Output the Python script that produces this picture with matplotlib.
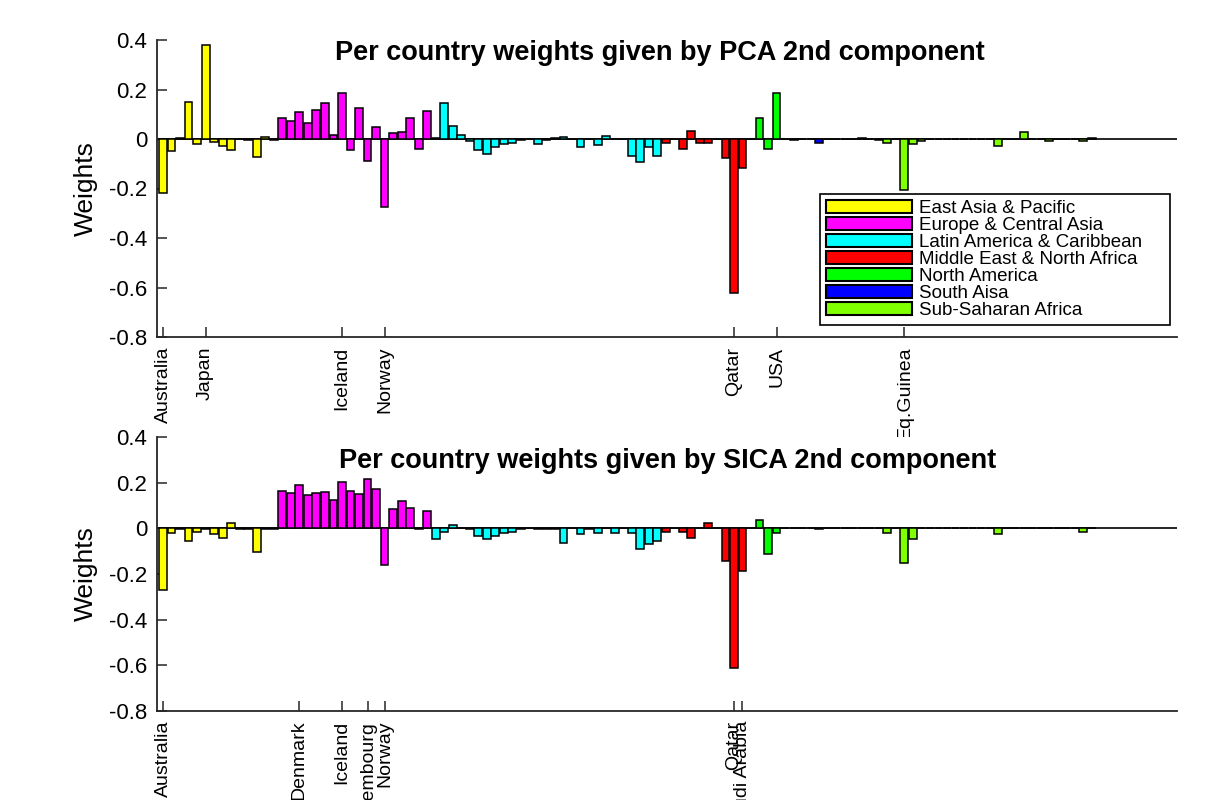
import matplotlib.pyplot as plt
from matplotlib.patches import Patch

# regions in country order, with how many countries each has
regions = ['East Asia & Pacific', 'Europe & Central Asia', 'Latin America & Caribbean',
           'Middle East & North Africa', 'North America', 'South Aisa', 'Sub-Saharan Africa']
region_colors = ['#ffff00', '#ff00ff', '#00ffff', '#ff0000', '#00ff00', '#0000ff', '#80ff00']
region_sizes = [14, 18, 27, 11, 3, 8, 29]

pca_weights = [
    -0.218, -0.05, 0.005, 0.15, -0.02, 0.38, -0.013, -0.027, -0.045, -0.002,
    -0.003, -0.074, 0.009, -0.005, 0.085, 0.072, 0.109, 0.066, 0.116, 0.144,
    0.015, 0.187, -0.045, 0.125, -0.089, 0.047, -0.275, 0.023, 0.03, 0.084,
    -0.04, 0.112, 0.004, 0.145, 0.054, 0.016, -0.01, -0.045, -0.062, -0.031,
    -0.022, -0.017, -0.003, 0.0, -0.022, -0.003, 0.003, 0.009, 0.0, -0.034,
    0.002, -0.024, 0.012, 0.0, -0.002, -0.067, -0.094, -0.032, -0.069, -0.017,
    0.0, -0.04, 0.034, -0.015, -0.015, 0.0, -0.078, -0.623, -0.116, 0.0,
    0.084, -0.04, 0.187, 0.0, -0.006, 0.0, 0.0, -0.015, 0.0, 0.0,
    0.0, 0.0, 0.003, 0.0, -0.003, -0.017, 0.0, -0.206, -0.02, -0.008,
    0.0, 0.0, 0.0, 0.0, 0.0, 0.0, 0.0, 0.0, -0.027, 0.0,
    0.0, 0.027, 0.0, 0.0, -0.008, 0.0, 0.0, 0.0, -0.01, 0.003,
]

sica_weights = [
    -0.269, -0.02, -0.003, -0.055, -0.018, -0.003, -0.025, -0.042, 0.022, -0.005,
    -0.003, -0.105, -0.002, -0.002, 0.162, 0.155, 0.188, 0.145, 0.155, 0.158,
    0.123, 0.203, 0.162, 0.149, 0.216, 0.171, -0.159, 0.086, 0.121, 0.088,
    -0.005, 0.074, -0.045, -0.016, 0.016, 0.0, -0.005, -0.035, -0.048, -0.032,
    -0.02, -0.018, -0.003, 0.0, -0.003, -0.003, -0.003, -0.064, 0.0, -0.025,
    -0.002, -0.022, 0.0, -0.022, 0.0, -0.02, -0.09, -0.067, -0.055, -0.018,
    0.0, -0.018, -0.041, 0.0, 0.025, 0.0, -0.143, -0.612, -0.185, 0.0,
    0.038, -0.112, -0.022, 0.0, 0.0, 0.0, 0.0, -0.005, 0.0, 0.0,
    0.0, 0.0, 0.0, 0.0, 0.0, -0.019, 0.003, -0.153, -0.047, 0.0,
    0.0, 0.0, 0.0, 0.0, 0.0, 0.0, 0.0, 0.0, -0.023, 0.003,
    0.003, 0.0, 0.0, 0.0, 0.0, 0.0, 0.0, 0.0, -0.016, 0.0,
]

# labelled countries (1-based position in the country list)
pca_label_idx = [1, 6, 22, 27, 68, 73, 88]
pca_label_names = ['Australia', 'Japan', 'Iceland', 'Norway', 'Qatar', 'USA', 'Eq.Guinea']
sica_label_idx = [1, 17, 22, 25, 27, 68, 69]
sica_label_names = ['Australia', 'Denmark', 'Iceland', 'Luxembourg', 'Norway', 'Qatar', 'Saudi Arabia']

y_ticks = [-0.8, -0.6, -0.4, -0.2, 0, 0.2, 0.4]
y_tick_labels = ['-0.8', '-0.6', '-0.4', '-0.2', '0', '0.2', '0.4']

plt.rcParams['font.family'] = ['Liberation Sans', 'DejaVu Sans']

colors = []
for c, n in zip(region_colors, region_sizes):
    colors += [c] * n
x = list(range(1, len(pca_weights) + 1))

fig = plt.figure(figsize=(12.09, 8.0), dpi=100)
ax1 = fig.add_axes([0.1299, 0.57875, 0.8437, 0.37125])
ax2 = fig.add_axes([0.1299, 0.11125, 0.8437, 0.3425])


def draw(ax, weights, title, tx, ty, ticks, names):
    ax.axhline(0, color='k', lw=1.2, zorder=1)
    ax.bar(x, weights, width=0.92, color=colors, edgecolor='k', linewidth=1.1, zorder=2)
    ax.set_xlim(0.3, 120)
    ax.set_ylim(-0.8, 0.4)
    ax.set_yticks(y_ticks)
    ax.set_yticklabels(y_tick_labels)
    ax.set_xticks(ticks)
    ax.set_xticklabels(names, rotation=90, va='top', ha='center', fontsize=14)
    for s in ['top', 'right']:
        ax.spines[s].set_visible(False)
    for s in ['left', 'bottom']:
        ax.spines[s].set_color('#262626')
        ax.spines[s].set_linewidth(1.3)
    ax.tick_params(direction='in', length=7, width=1.1, color='#262626', pad=7)
    ax.tick_params(axis='y', labelsize=16)
    ax.set_ylabel('Weights', fontsize=19)
    ax.yaxis.set_label_coords(-0.058, 0.5)
    ax.text(tx, ty, title, transform=ax.transAxes, ha='center', va='center',
            fontsize=19.5, fontweight='bold')


draw(ax1, pca_weights, 'Per country weights given by PCA 2nd component', 0.493, 0.956,
     pca_label_idx, pca_label_names)
draw(ax2, sica_weights, 'Per country weights given by SICA 2nd component', 0.501, 0.912,
     sica_label_idx, sica_label_names)

handles = [Patch(facecolor=c, edgecolor='k', linewidth=1.5) for c in region_colors]
leg = ax1.legend(handles, regions, loc='lower left', bbox_to_anchor=(0.65, 0.04, 0.343, 0.43),
                 mode='expand', borderaxespad=0, fontsize=13.5, handlelength=4.6,
                 handleheight=0.7, labelspacing=0.0, borderpad=0.3, handletextpad=0.4,
                 fancybox=False, edgecolor='k', framealpha=1)
leg.get_frame().set_linewidth(1.2)

fig.savefig('out.png', dpi=100)
